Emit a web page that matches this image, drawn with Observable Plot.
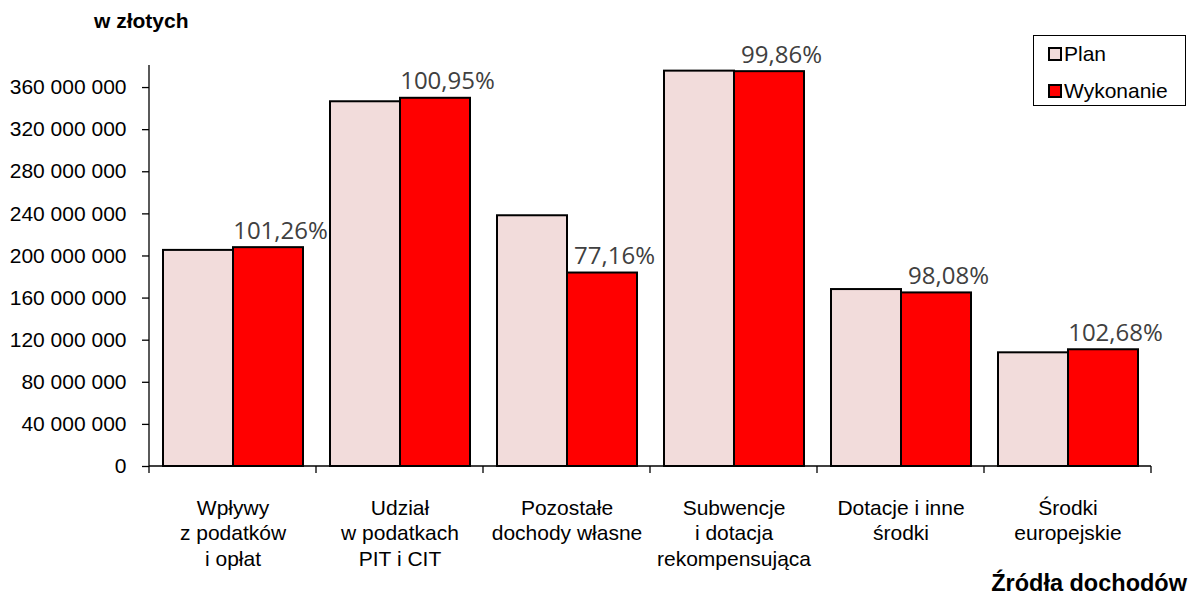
<!DOCTYPE html>
<html>
<head>
<meta charset="utf-8">
<script src="https://cdn.jsdelivr.net/npm/d3@7"></script>
<script src="https://cdn.jsdelivr.net/npm/@observablehq/plot@0.6"></script>
<style>
  body { margin: 0; background: #fff; }
  #wrap { position: relative; width: 1191px; height: 595px; font-family: "Liberation Sans", Arial, sans-serif; color: #000; }
  #wrap svg { position: absolute; left: 0; top: 0; }
  .title { position: absolute; left: 94px; top: 10px; font-size: 21px; font-weight: bold; line-height: 1; white-space: nowrap; }
  .xlabel { position: absolute; right: 4px; top: 572px; font-size: 23.5px; font-weight: bold; line-height: 1; white-space: nowrap; }
  #legend { position: absolute; left: 1033px; top: 35px; width: 153px; height: 71px; border: 1px solid #000; box-sizing: border-box; background: #fff; }
  .item { position: absolute; left: 14px; height: 36px; display: flex; align-items: center; font-size: 21px; white-space: nowrap; }
  .sw { width: 10px; height: 10px; border: 2px solid #000; margin-right: 2px; }
</style>
</head>
<body>
<div id="wrap">
  <div class="title">w złotych</div>
  <div class="xlabel">Źródła dochodów</div>
  <div id="legend"></div>
</div>
<script>
// ---- data ----
const categories = [
  "Wpływy\nz podatków\ni opłat",
  "Udział\nw podatkach\nPIT i CIT",
  "Pozostałe\ndochody własne",
  "Subwencje\ni dotacja\nrekompensująca",
  "Dotacje i inne\nśrodki",
  "Środki\neuropejskie"
];
const series = ["Plan", "Wykonanie"];
const planValues = [205300000, 346500000, 238200000, 375600000, 168100000, 108000000];
const wykonanieValues = [207900000, 349800000, 183800000, 375100000, 164900000, 110900000];
const percentLabels = ["101,26%", "100,95%", "77,16%", "99,86%", "98,08%", "102,68%"];
const yTicks = [0, 40000000, 80000000, 120000000, 160000000, 200000000, 240000000, 280000000, 320000000, 360000000];
const seriesColors = ["#F2DCDB", "#FF0000"];

// ---- table for Plot ----
const rows = categories.flatMap((c, i) => [
  {cat: c, series: series[0], value: planValues[i], pct: null},
  {cat: c, series: series[1], value: wykonanieValues[i], pct: percentLabels[i]}
]);

const fmt = d3.formatLocale({decimal: ",", thousands: " ", grouping: [3], currency: ["", ""]}).format(",d");

const axisLines = Plot.frame({
  facet: "super",
  render(index, scales, values, dimensions) {
    const g = d3.create("svg:g").attr("stroke", "#000").attr("stroke-width", 1.3).attr("fill", "none");
    const left = dimensions.marginLeft;
    const right = dimensions.width - dimensions.marginRight;
    const top = dimensions.marginTop - 1;
    const base = dimensions.height - dimensions.marginBottom;
    let bounds;
    if (scales.fx && scales.fx.bandwidth) {
      bounds = categories.map(c => scales.fx(c));
      bounds.push(scales.fx(categories[categories.length - 1]) + scales.fx.bandwidth());
    } else {
      const step = (right - left) / categories.length;
      bounds = d3.range(categories.length + 1).map(i => left + i * step);
    }
    g.append("line").attr("x1", left).attr("x2", left).attr("y1", top).attr("y2", base);
    g.append("line").attr("x1", left).attr("x2", right).attr("y1", base).attr("y2", base);
    for (const b of bounds) g.append("line").attr("x1", b).attr("x2", b).attr("y1", base).attr("y2", base + 7);
    return g.node();
  }
});

const chart = Plot.plot({
  width: 1191,
  height: 595,
  marginLeft: 149,
  marginRight: 40,
  marginTop: 66,
  marginBottom: 129,
  style: {fontFamily: "'Liberation Sans', Arial, sans-serif", fontSize: "21px", color: "#000", background: "transparent", overflow: "visible"},
  fx: {domain: categories, padding: 0, label: null},
  x: {domain: series, paddingInner: 0, paddingOuter: 0.184, axis: null},
  y: {domain: [0, 380000000]},
  color: {domain: series, range: seriesColors},
  marks: [
    Plot.barY(rows, {fx: "cat", x: "series", y: "value", fill: "series", stroke: "#000", strokeWidth: 2}),
    Plot.text(rows.filter(d => d.pct), {
      fx: "cat", x: "series", y: "value", text: "pct",
      dx: 12, dy: -9, lineAnchor: "bottom",
      fontFamily: "'Open Sans', sans-serif", fontSize: 24, fill: "#404040"
    }),
    Plot.axisY({ticks: yTicks, tickFormat: fmt, tickSize: 7, tickPadding: 16, fontSize: 21, label: null, stroke: "#000", strokeWidth: 1.3}),
    Plot.axisFx({anchor: "bottom", tickSize: 0, tickPadding: 30, lineHeight: 1.214, fontSize: 21, label: null}),
    axisLines
  ]
});
document.getElementById("wrap").prepend(chart);

// ---- legend ----
const legend = document.getElementById("legend");
series.forEach((s, i) => {
  const item = document.createElement("div");
  item.className = "item";
  item.style.top = (i * 37) + "px";
  const sw = document.createElement("span");
  sw.className = "sw";
  sw.style.background = seriesColors[i];
  item.appendChild(sw);
  item.appendChild(document.createTextNode(s));
  legend.appendChild(item);
});
</script>
</body>
</html>
